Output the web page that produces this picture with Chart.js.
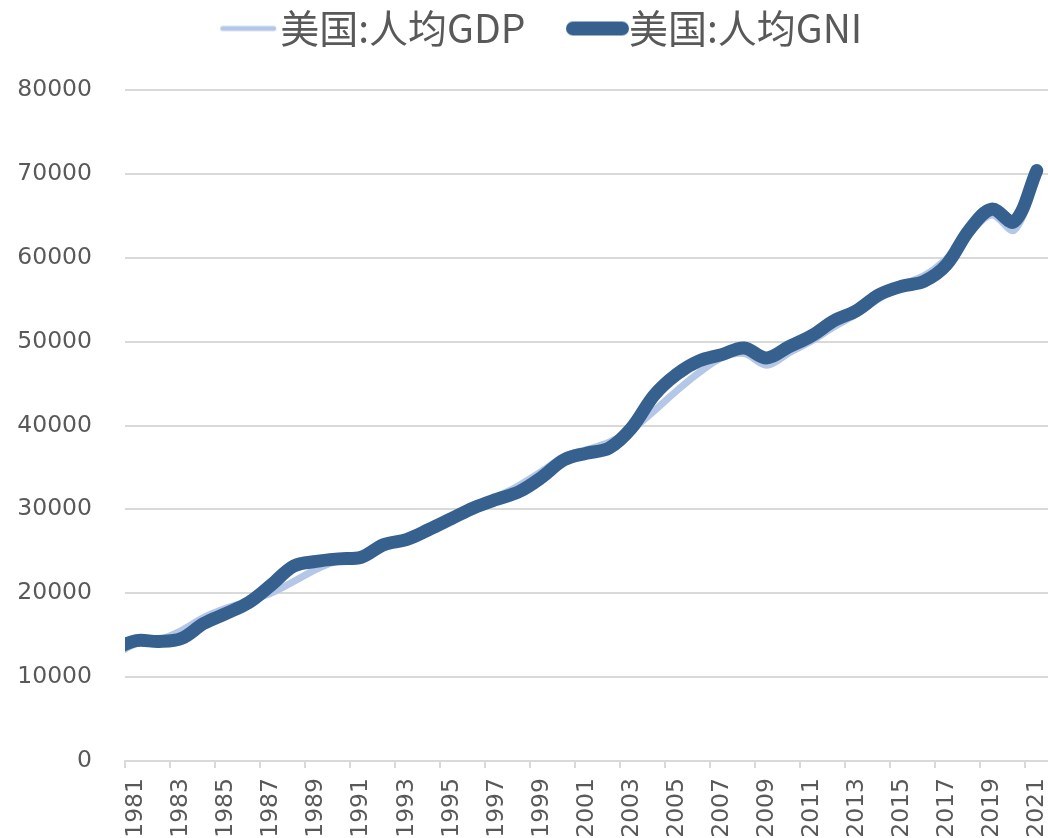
<!DOCTYPE html>
<html lang="zh">
<head>
    <meta charset="UTF-8">
    <title>美国:人均GDP 与 人均GNI</title>
    <script src="https://cdn.jsdelivr.net/npm/chart.js"></script>
    <style>
        body { margin: 0; background: #fff; }
        #wrap { width: 1048px; height: 838px; }
    </style>
</head>
<body>
    <div id="wrap"><canvas id="myChart"></canvas></div>
    <script>
        // years 1980-2021 (1980 sits just left of the plot and gets clipped)
        const years = [1980, 1981, 1982, 1983, 1984, 1985, 1986, 1987, 1988, 1989,
            1990, 1991, 1992, 1993, 1994, 1995, 1996, 1997, 1998, 1999,
            2000, 2001, 2002, 2003, 2004, 2005, 2006, 2007, 2008, 2009,
            2010, 2011, 2012, 2013, 2014, 2015, 2016, 2017, 2018, 2019,
            2020, 2021];
        const gdpPerCapita = [12575, 13976, 14434, 15544, 17121, 18237, 19071, 20039, 21417, 22857,
            23889, 24342, 25419, 26387, 27695, 28691, 29968, 31459, 32854, 34516,
            36330, 37134, 37998, 39490, 41725, 44123, 46302, 48050, 48570, 47195,
            48651, 50066, 51784, 53291, 55124, 56763, 57867, 59915, 62805, 65095,
            63300, 70000];
        const gniPerCapita = [13300, 14350, 14250, 14600, 16400, 17600, 18900, 21000, 23250, 23800,
            24100, 24300, 25800, 26400, 27600, 28900, 30200, 31200, 32100, 33800,
            35900, 36700, 37300, 39700, 43600, 46100, 47700, 48450, 49250, 48050,
            49400, 50700, 52500, 53700, 55600, 56600, 57200, 59200, 63300, 65800,
            64300, 70400];
        const xLabelYears = [1981, 1983, 1985, 1987, 1989, 1991, 1993, 1995, 1997, 1999,
            2001, 2003, 2005, 2007, 2009, 2011, 2013, 2015, 2017, 2019, 2021];
        const yTicks = [0, 10000, 20000, 30000, 40000, 50000, 60000, 70000, 80000];

        const gridColor = '#d9d9d9';
        const textColor = '#595959';
        const gdpColor = '#b4c7e7';
        const gniColor = '#36618f';

        const legendFontSize = 39;
        const legendBoxWidth = 75;

        // legend swatch: a short line sitting right against the label text
        function legendLine(color, width, len, endGap) {
            const w = legendBoxWidth + legendFontSize;
            const c = document.createElement('canvas');
            c.width = w;
            c.height = 20;
            const g = c.getContext('2d');
            g.strokeStyle = color;
            g.lineWidth = width;
            g.lineCap = 'round';
            g.beginPath();
            g.moveTo(w - endGap - len + width / 2, 10);
            g.lineTo(w - endGap - width / 2, 10);
            g.stroke();
            return c;
        }

        const legendGap = {
            id: 'legendGap',
            beforeInit(chart) {
                const fit = chart.legend.fit;
                chart.legend.fit = function () {
                    fit.call(this);
                    this.height += 32;
                };
            }
        };

        const ctx = document.getElementById('myChart').getContext('2d');
        new Chart(ctx, {
            type: 'line',
            data: {
                datasets: [{
                    label: '美国:人均GDP',
                    data: years.map((y, i) => ({ x: y, y: gdpPerCapita[i] })),
                    borderColor: gdpColor,
                    backgroundColor: gdpColor,
                    borderWidth: 7,
                    borderCapStyle: 'round',
                    borderJoinStyle: 'round',
                    pointRadius: 0,
                    pointStyle: legendLine(gdpColor, 5, 56, 4),
                    tension: 0.35,
                    order: 1
                }, {
                    label: '美国:人均GNI',
                    data: years.map((y, i) => ({ x: y, y: gniPerCapita[i] })),
                    borderColor: gniColor,
                    backgroundColor: gniColor,
                    borderWidth: 13,
                    borderCapStyle: 'round',
                    borderJoinStyle: 'round',
                    pointRadius: 0,
                    pointStyle: legendLine(gniColor, 14, 63, 0),
                    tension: 0.35,
                    order: 0
                }]
            },
            options: {
                responsive: true,
                maintainAspectRatio: false,
                animation: false,
                layout: { padding: 0 },
                plugins: {
                    tooltip: { enabled: false },
                    legend: {
                        position: 'top',
                        labels: {
                            usePointStyle: true,
                            pointStyleWidth: legendBoxWidth,
                            padding: 9,
                            color: textColor,
                            font: { family: '"Noto Sans CJK SC", sans-serif', size: legendFontSize },
                            sort: (a, b) => a.datasetIndex - b.datasetIndex
                        }
                    }
                },
                scales: {
                    x: {
                        type: 'linear',
                        min: 1980.5,
                        max: 2021.5,
                        afterBuildTicks: (scale) => {
                            const t = [];
                            for (let v = 1980.5; v < 2021.5; v += 2) t.push({ value: v });
                            xLabelYears.forEach(y => t.push({ value: y }));
                            t.sort((a, b) => a.value - b.value);
                            scale.ticks = t;
                        },
                        afterFit: (s) => {
                            s.height = 77;
                            s.paddingLeft = 0;
                            s.paddingRight = 0;
                        },
                        grid: {
                            drawOnChartArea: false,
                            tickLength: 7,
                            lineWidth: 2,
                            color: (c) => (c.tick && Number.isInteger(c.tick.value)) ? 'rgba(0,0,0,0)' : gridColor
                        },
                        border: { display: true, color: gridColor, width: 2 },
                        ticks: {
                            autoSkip: false,
                            minRotation: 90,
                            maxRotation: 90,
                            padding: 10,
                            color: textColor,
                            font: { family: '"DejaVu Sans", Verdana, sans-serif', size: 23.5 },
                            callback: (v) => xLabelYears.includes(v) ? String(v) : ''
                        }
                    },
                    y: {
                        min: 0,
                        max: 80000,
                        afterBuildTicks: (scale) => {
                            scale.ticks = yTicks.map(v => ({ value: v }));
                        },
                        afterFit: (s) => {
                            s.width = 125;
                            s.paddingTop = 0;
                            s.paddingBottom = 0;
                        },
                        grid: {
                            color: gridColor,
                            lineWidth: 2,
                            drawTicks: false
                        },
                        border: { display: false },
                        ticks: {
                            padding: 33,
                            color: textColor,
                            font: { family: '"DejaVu Sans", Verdana, sans-serif', size: 23.5 },
                            callback: (v) => String(v)
                        }
                    }
                }
            },
            plugins: [legendGap]
        });
    </script>
</body>
</html>
